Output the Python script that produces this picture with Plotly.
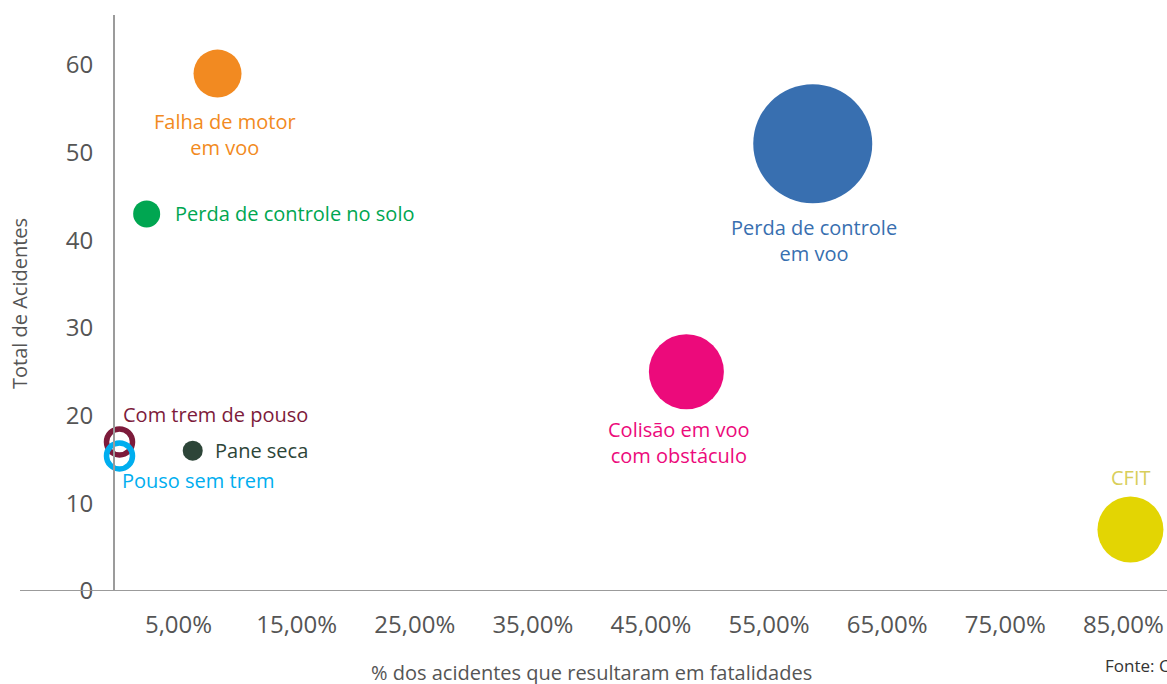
import plotly.graph_objects as go

# ---- data ----
categories = ["Falha de motor<br>em voo", "Perda de controle<br>em voo", "Perda de controle no solo",
              "Colisão em voo<br>com obstáculo", "CFIT", "Pane seca"]
pct_fatal = [8.3, 58.7, 2.3, 48.0, 85.6, 6.2]          # % dos acidentes com fatalidades
total_acid = [59, 51, 43, 25, 7, 16]                   # total de acidentes
bubble_size = [48, 119, 27, 75, 66, 20]                # relative bubble magnitude

ring_categories = ["Com trem de pouso", "Pouso sem trem"]
ring_pct = [0.0, 0.0]
ring_total = [17, 15.4]

x_ticks = [5, 15, 25, 35, 45, 55, 65, 75, 85]
x_ticktext = ["5,00%", "15,00%", "25,00%", "35,00%", "45,00%", "55,00%", "65,00%", "75,00%", "85,00%"]
y_ticks = [0, 10, 20, 30, 40, 50, 60]

# ---- styling ----
colors = ["#F28A21", "#386FB0", "#00A651", "#EC0A7B", "#E3D503", "#2D4538"]
text_colors = ["#F28A21", "#386FB0", "#00A651", "#EC0A7B", "#D8CE5A", "#2D4538"]
ring_colors = ["#7D1B3B", "#00AEEF"]
# label placement: (xanchor, xshift, yshift)
label_pos = [("center", 7, -61), ("center", 1, -97), ("left", 26, 0),
             ("center", -7, -71), ("center", 1, 52), ("left", 20, 0)]
ring_label_pos = [("left", 1, 27), ("left", 0, -25)]

FONT = "Open Sans, Noto Sans, sans-serif"
W, H = 1167, 684
ML, MR, MT, MB = 115, 0, 15, 93
pw = W - ML - MR
ph = H - MT - MB

fig = go.Figure()

for i, cat in enumerate(categories):
    fig.add_trace(go.Scatter(
        x=[pct_fatal[i]], y=[total_acid[i]], mode="markers",
        marker=dict(size=bubble_size[i], sizemode="diameter", color=colors[i], line=dict(width=0), opacity=1),
        name=cat.replace("<br>", " "), showlegend=False, hoverinfo="name", cliponaxis=False))

for i, cat in enumerate(ring_categories):
    fig.add_trace(go.Scatter(
        x=[ring_pct[i]], y=[ring_total[i]], mode="markers",
        marker=dict(size=26, symbol="circle-open", color=ring_colors[i], line=dict(width=5.5, color=ring_colors[i])),
        name=cat, showlegend=False, hoverinfo="name", cliponaxis=False))

annotations = []
for i, cat in enumerate(categories):
    xa, xs, ys = label_pos[i]
    annotations.append(dict(x=pct_fatal[i], y=total_acid[i], xref="x", yref="y", text=cat,
                            showarrow=False, xanchor=xa, yanchor="middle", xshift=xs, yshift=ys,
                            align="center", font=dict(family=FONT, size=20, color=text_colors[i])))
for i, cat in enumerate(ring_categories):
    xa, xs, ys = ring_label_pos[i]
    annotations.append(dict(x=ring_pct[i], y=ring_total[i], xref="x", yref="y", text=cat,
                            showarrow=False, xanchor=xa, yanchor="middle", xshift=xs, yshift=ys,
                            font=dict(family=FONT, size=20, color=ring_colors[i])))

# axis titles and source
annotations.append(dict(x=(591 - ML) / pw, y=(H - MB - 672) / ph, xref="paper", yref="paper",
                        text="% dos acidentes que resultaram em fatalidades", showarrow=False,
                        xanchor="center", yanchor="middle",
                        font=dict(family=FONT, size=20, color="#555555")))
annotations.append(dict(x=(19 - ML) / pw, y=(H - MB - 304) / ph, xref="paper", yref="paper",
                        text="Total de Acidentes", showarrow=False, textangle=-90,
                        xanchor="center", yanchor="middle",
                        font=dict(family=FONT, size=20, color="#555555")))
annotations.append(dict(x=(1103 - ML) / pw, y=(H - MB - 665) / ph, xref="paper", yref="paper",
                        text="Fonte: CENIPA", showarrow=False, xanchor="left", yanchor="middle",
                        font=dict(family=FONT, size=17, color="#333333")))

x_lo = (ML - 119.5) / 11.81
x_hi = x_lo + pw / 11.81

fig.update_layout(
    width=W, height=H,
    margin=dict(l=ML, r=MR, t=MT, b=MB, pad=0),
    paper_bgcolor="white", plot_bgcolor="white",
    showlegend=False,
    font=dict(family=FONT, color="#555555"),
    xaxis=dict(range=[x_lo, x_hi], tickmode="array", tickvals=x_ticks, ticktext=x_ticktext,
               showgrid=False, zeroline=False, showline=False, ticks="",
               tickfont=dict(family=FONT, size=24, color="#555555"), ticklabelstandoff=17),
    yaxis=dict(range=[0, ph / 8.77], tickmode="array", tickvals=y_ticks,
               showgrid=False, zeroline=False, showline=True, linecolor="#9B9B9B", linewidth=2,
               ticks="", tickfont=dict(family=FONT, size=24, color="#555555"), ticklabelstandoff=15),
    annotations=annotations,
    shapes=[dict(type="line", xref="paper", yref="y", x0=(20 - ML) / pw, x1=1, y0=0, y1=0,
                 line=dict(color="#9B9B9B", width=2), layer="above")],
)

fig.write_html("out.html", config={"displayModeBar": False},
               post_script="document.body.style.margin='0';document.body.style.overflow='hidden';")
